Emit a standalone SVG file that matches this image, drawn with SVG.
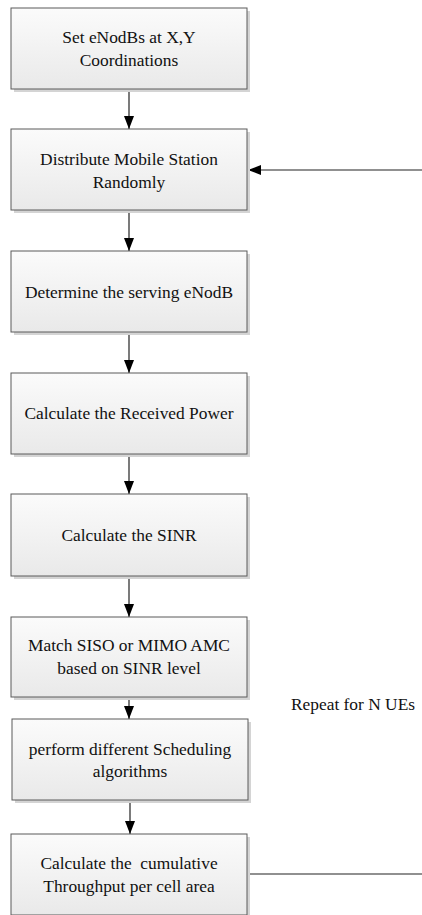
<svg xmlns="http://www.w3.org/2000/svg" width="422" height="915" viewBox="0 0 422 915" font-family="Liberation Serif, Times New Roman, serif" font-size="17.4">
<style>
.shadow{fill:#d4d4d4}
.box{fill:url(#g);stroke:#5a5a5a;stroke-width:1}
.t{fill:#111;text-anchor:middle}
.c{stroke:#222;stroke-width:1.2;fill:none}
</style>
<defs>
<linearGradient id="g" x1="0" y1="0" x2="0" y2="1">
<stop offset="0" stop-color="#fbfbfb"/>
<stop offset="1" stop-color="#e9e9e9"/>
</linearGradient>
<marker id="ah" markerWidth="13" markerHeight="10" refX="13" refY="5" orient="auto" markerUnits="userSpaceOnUse">
<path d="M0,0 L13,5 L0,10 Z" fill="#000"/>
</marker>
</defs>
<g id="connectors">
<line class="c" x1="129" y1="88" x2="129" y2="129" marker-end="url(#ah)"/>
<line class="c" x1="129" y1="210" x2="129" y2="251" marker-end="url(#ah)"/>
<line class="c" x1="129" y1="332" x2="129" y2="373" marker-end="url(#ah)"/>
<line class="c" x1="129" y1="454" x2="129" y2="494" marker-end="url(#ah)"/>
<line class="c" x1="129" y1="576" x2="129" y2="617" marker-end="url(#ah)"/>
<line class="c" x1="129" y1="697" x2="129" y2="719" marker-end="url(#ah)"/>
<line class="c" x1="130" y1="800" x2="130" y2="834" marker-end="url(#ah)"/>
<line class="c" x1="247" y1="874" x2="422" y2="874"/>
<line class="c" x1="422" y1="170" x2="248" y2="170" marker-end="url(#ah)"/>
</g>
<g id="n1">
<rect class="shadow" x="14" y="11" width="236" height="81"/>
<rect class="box" x="11" y="8" width="236" height="81"/>
<text class="t" x="129" y="43">Set eNodBs at X,Y</text>
<text class="t" x="129" y="66">Coordinations</text>
</g>
<g id="n2">
<rect class="shadow" x="14" y="132" width="236" height="81"/>
<rect class="box" x="11" y="129" width="236" height="81"/>
<text class="t" x="129" y="165">Distribute Mobile Station</text>
<text class="t" x="129" y="188">Randomly</text>
</g>
<g id="n3">
<rect class="shadow" x="14" y="254" width="236" height="81"/>
<rect class="box" x="11" y="251" width="236" height="81"/>
<text class="t" x="129" y="298">Determine the serving eNodB</text>
</g>
<g id="n4">
<rect class="shadow" x="14" y="376" width="236" height="81"/>
<rect class="box" x="11" y="373" width="236" height="81"/>
<text class="t" x="129" y="419">Calculate the Received Power</text>
</g>
<g id="n5">
<rect class="shadow" x="14" y="497" width="236" height="82"/>
<rect class="box" x="11" y="494" width="236" height="82"/>
<text class="t" x="129" y="541">Calculate the SINR</text>
</g>
<g id="n6">
<rect class="shadow" x="14" y="620" width="236" height="80"/>
<rect class="box" x="11" y="617" width="236" height="80"/>
<text class="t" x="129" y="651">Match SISO or MIMO AMC</text>
<text class="t" x="129" y="674">based on SINR level</text>
</g>
<g id="n7">
<rect class="shadow" x="15" y="722" width="236" height="81"/>
<rect class="box" x="12" y="719" width="236" height="81"/>
<text class="t" x="130" y="755">perform different Scheduling</text>
<text class="t" x="130" y="777">algorithms</text>
</g>
<g id="n8">
<rect class="shadow" x="14" y="837" width="236" height="81"/>
<rect class="box" x="11" y="834" width="236" height="81"/>
<text class="t" x="129" y="869" xml:space="preserve">Calculate the  cumulative</text>
<text class="t" x="129" y="892">Throughput per cell area</text>
</g>
<g id="label">
<text class="t" x="353" y="710">Repeat for N UEs</text>
</g>
</svg>
